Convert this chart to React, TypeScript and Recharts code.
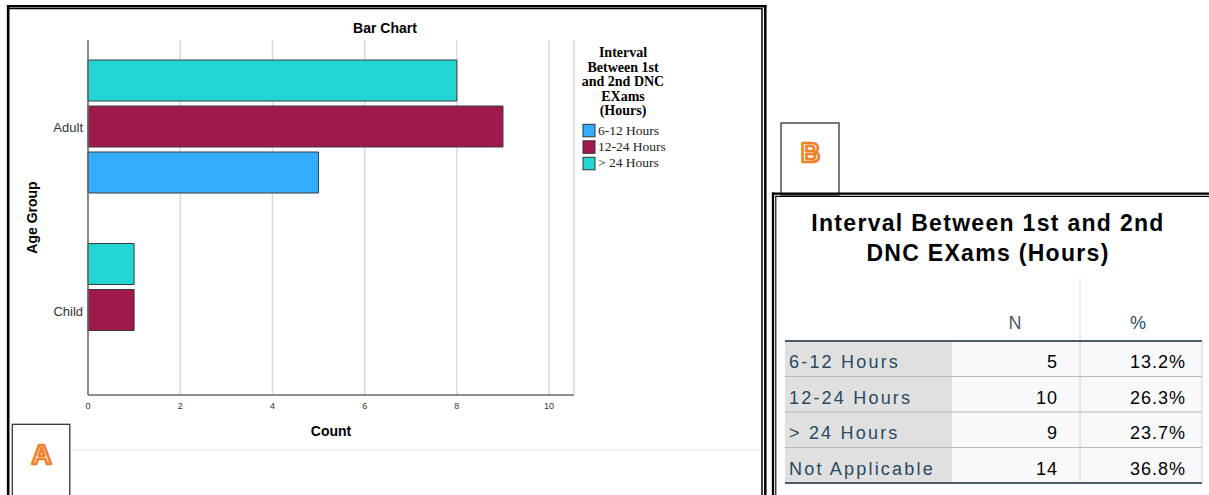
import React from 'react';
import { BarChart, Bar, XAxis, YAxis, CartesianGrid, Legend, Label } from 'recharts';

// ---------- data ----------
const categories = ['Adult', 'Child'];
const seriesLabels = ['6-12 Hours', '12-24 Hours', '> 24 Hours'];
const hours6to12 = [5, 0];
const hours12to24 = [9, 1];
const hoursOver24 = [8, 1];
const countTicks = [0, 2, 4, 6, 8, 10];
const legendTitleLines = ['Interval', 'Between 1st', 'and 2nd DNC', 'EXams', '(Hours)'];

const tableTitleLines = ['Interval Between 1st and 2nd', 'DNC EXams (Hours)'];
const tableHeaders = ['N', '%'];
const tableRows = ['6-12 Hours', '12-24 Hours', '> 24 Hours', 'Not Applicable'];
const tableN = ['5', '10', '9', '14'];
const tablePct = ['13.2%', '26.3%', '23.7%', '36.8%'];

// ---------- styles ----------
const seriesColors = ['#33adff', '#a0194b', '#21d6d2'];
const SANS = '"Liberation Sans", Arial, sans-serif';
const SERIF = '"Liberation Serif", "Times New Roman", serif';

const data = categories.map((c, i) => ({
  group: c,
  h6: hours6to12[i],
  h12: hours12to24[i],
  h24: hoursOver24[i],
}));

const CatTick = (props: any) => {
  const { x, y, payload } = props;
  return (
    <text x={x + 3} y={y + 2} dy="0.355em" textAnchor="end" fontSize={13} fill="#333" fontFamily={SANS}>
      {payload.value}
    </text>
  );
};

const AgeLabel = (props: any) => {
  const vb = props.viewBox || { x: 8, y: 40, width: 80, height: 355 };
  const cx = vb.x + 29;
  const cy = vb.y + vb.height / 2;
  return (
    <text x={cx} y={cy} transform={`rotate(-90 ${cx} ${cy})`} textAnchor="middle" fontSize={14} fontWeight={700} fill="#000" fontFamily={SANS}>
      Age Group
    </text>
  );
};

const LegendContent = () => (
  <svg width={150} height={140} style={{ overflow: 'visible' }}>
    {legendTitleLines.map((t, i) => (
      <text key={t} x={63} y={17 + i * 14.5} textAnchor="middle" fontFamily={SERIF} fontWeight={700} fontSize={14} fill="#000">
        {t}
      </text>
    ))}
    {seriesLabels.map((s, i) => (
      <g key={s}>
        <rect x={23} y={84.3 + i * 16.5} width={12} height={12.5} fill={seriesColors[i]} stroke="#333" strokeWidth={1} />
        <text x={38} y={95 + i * 15.9} fontFamily={SERIF} fontSize={13.5} fill="#222">
          {s}
        </text>
      </g>
    ))}
  </svg>
);

export default function App() {
  return (
    <div style={{ position: 'absolute', left: 0, top: 0, width: 1209, height: 495, background: '#fff', overflow: 'hidden', fontFamily: SANS }}>
      {/* Panel A chart */}
      <div style={{ position: 'absolute', left: 0, top: 0 }}>
        <BarChart
          width={760}
          height={450}
          data={data}
          layout="vertical"
          margin={{ top: 40, right: 186, bottom: 35, left: 8 }}
          barCategoryGap={26}
          barGap={5}
        >
          <CartesianGrid horizontal={false} stroke="#d9d9d9" strokeWidth={1.5} />
          <XAxis
            type="number"
            domain={[0, 10.54]}
            ticks={countTicks}
            interval={0}
            height={20}
            tickLine={false}
            axisLine={{ stroke: '#6b6b6b', strokeWidth: 1.5 }}
            tick={{ fontSize: 9, fill: '#333', fontFamily: SANS }}
          >
            <Label value="Count" position="bottom" offset={11} style={{ fontSize: 14, fontWeight: 700, fill: '#000', fontFamily: SANS }} />
          </XAxis>
          <YAxis
            type="category"
            dataKey="group"
            width={80}
            padding={{ top: -6, bottom: -6 }}
            tickLine={false}
            axisLine={{ stroke: '#6b6b6b', strokeWidth: 1.5 }}
            tick={<CatTick />}
          >
            <Label content={AgeLabel} />
          </YAxis>
          <Legend
            layout="vertical"
            align="center"
            verticalAlign="middle"
            content={LegendContent}
            wrapperStyle={{ left: 560, top: 40, width: 150, height: 140 }}
          />
          <Bar dataKey="h24" name={seriesLabels[2]} fill={seriesColors[2]} stroke="#3c3c3c" strokeWidth={1} isAnimationActive={false} />
          <Bar dataKey="h12" name={seriesLabels[1]} fill={seriesColors[1]} stroke="#3c3c3c" strokeWidth={1} isAnimationActive={false} />
          <Bar dataKey="h6" name={seriesLabels[0]} fill={seriesColors[0]} stroke="#3c3c3c" strokeWidth={1} isAnimationActive={false} />
        </BarChart>
      </div>

      {/* Chart title */}
      <div style={{ position: 'absolute', left: 9, width: 752, top: 20, textAlign: 'center', fontFamily: SANS, fontWeight: 700, fontSize: 14, color: '#000', lineHeight: '16px' }}>
        Bar Chart
      </div>

      {/* Frames, labels and table */}
      <svg width={1209} height={495} style={{ position: 'absolute', left: 0, top: 0, pointerEvents: 'none' }}>
        {/* Panel A frame */}
        <line x1={7} y1={6.2} x2={766.5} y2={6.2} stroke="#000" strokeWidth={2.5} />
        <line x1={9} y1={8.7} x2={762.7} y2={8.7} stroke="#000" strokeWidth={1.2} />
        <line x1={8.2} y1={5} x2={8.2} y2={495} stroke="#000" strokeWidth={2.6} />
        <line x1={762} y1={8.5} x2={762} y2={495} stroke="#000" strokeWidth={1.5} />
        <line x1={765.3} y1={5} x2={765.3} y2={495} stroke="#000" strokeWidth={2.5} />
        <line x1={70} y1={450} x2={761} y2={450} stroke="#e8e8e8" strokeWidth={1} />

        {/* A tag */}
        <rect x={12.3} y={424.3} width={57.5} height={80} fill="#fff" stroke="#333" strokeWidth={1.3} />
        <text x={41.5} y={464} textAnchor="middle" fontFamily={SANS} fontWeight={700} fontSize={28} fill="#fff" stroke="#f0802a" strokeWidth={2.6} strokeLinejoin="round">A</text>

        {/* B tag */}
        <rect x={781} y={123} width={58} height={72} fill="#fff" stroke="#333" strokeWidth={1.3} />
        <text x={810.5} y={162} textAnchor="middle" fontFamily={SANS} fontWeight={700} fontSize={27} fill="#fff" stroke="#f0802a" strokeWidth={2.6} strokeLinejoin="round">B</text>

        {/* Panel B frame */}
        <line x1={772} y1={193.7} x2={1209} y2={193.7} stroke="#000" strokeWidth={2.3} />
        <line x1={775} y1={196.4} x2={1209} y2={196.4} stroke="#000" strokeWidth={1.1} />
        <line x1={773} y1={192.6} x2={773} y2={495} stroke="#000" strokeWidth={2.3} />
        <line x1={775.8} y1={196} x2={775.8} y2={495} stroke="#000" strokeWidth={1.1} />

        {/* Table title */}
        {tableTitleLines.map((t, i) => (
          <text key={t} x={988} y={231 + i * 30} textAnchor="middle" fontFamily={SANS} fontWeight={700} fontSize={23} letterSpacing={1.3} fill="#010205">
            {t}
          </text>
        ))}

        {/* Header */}
        <line x1={1080} y1={278} x2={1080} y2={341} stroke="#dcdcdc" strokeWidth={1} />
        <text x={1015} y={329} textAnchor="middle" fontFamily={SANS} fontSize={18} fill="#4a5a66">{tableHeaders[0]}</text>
        <text x={1138} y={329} textAnchor="middle" fontFamily={SANS} fontSize={18} fill="#264a60">{tableHeaders[1]}</text>

        {/* Body */}
        <rect x={785} y={341} width={167} height={142} fill="#e0e0e0" />
        <rect x={952} y={341} width={250} height={142} fill="#f9f9fb" />
        {tableRows.map((r, i) => {
          const top = 341 + i * 35.5;
          return (
            <g key={r}>
              {i > 0 && <line x1={785} y1={top} x2={1202} y2={top} stroke="#b8b8b8" strokeWidth={1} />}
              <text x={789} y={top + 27} fontFamily={SANS} fontSize={18} letterSpacing={2.2} fill="#264a60">{r}</text>
              <text x={1058} y={top + 27} textAnchor="end" fontFamily={SANS} fontSize={18} letterSpacing={1} fill="#010205">{tableN[i]}</text>
              <text x={1186} y={top + 27} textAnchor="end" fontFamily={SANS} fontSize={18} letterSpacing={1} fill="#010205">{tablePct[i]}</text>
            </g>
          );
        })}
        <line x1={1080} y1={341} x2={1080} y2={483} stroke="#d0d0d0" strokeWidth={1} />
        <line x1={1202} y1={341} x2={1202} y2={483} stroke="#d0d0d0" strokeWidth={1} />
        <line x1={785} y1={341} x2={1202} y2={341} stroke="#152935" strokeWidth={1.6} />
        <line x1={785} y1={483} x2={1202} y2={483} stroke="#152935" strokeWidth={1.6} />
      </svg>
    </div>
  );
}
